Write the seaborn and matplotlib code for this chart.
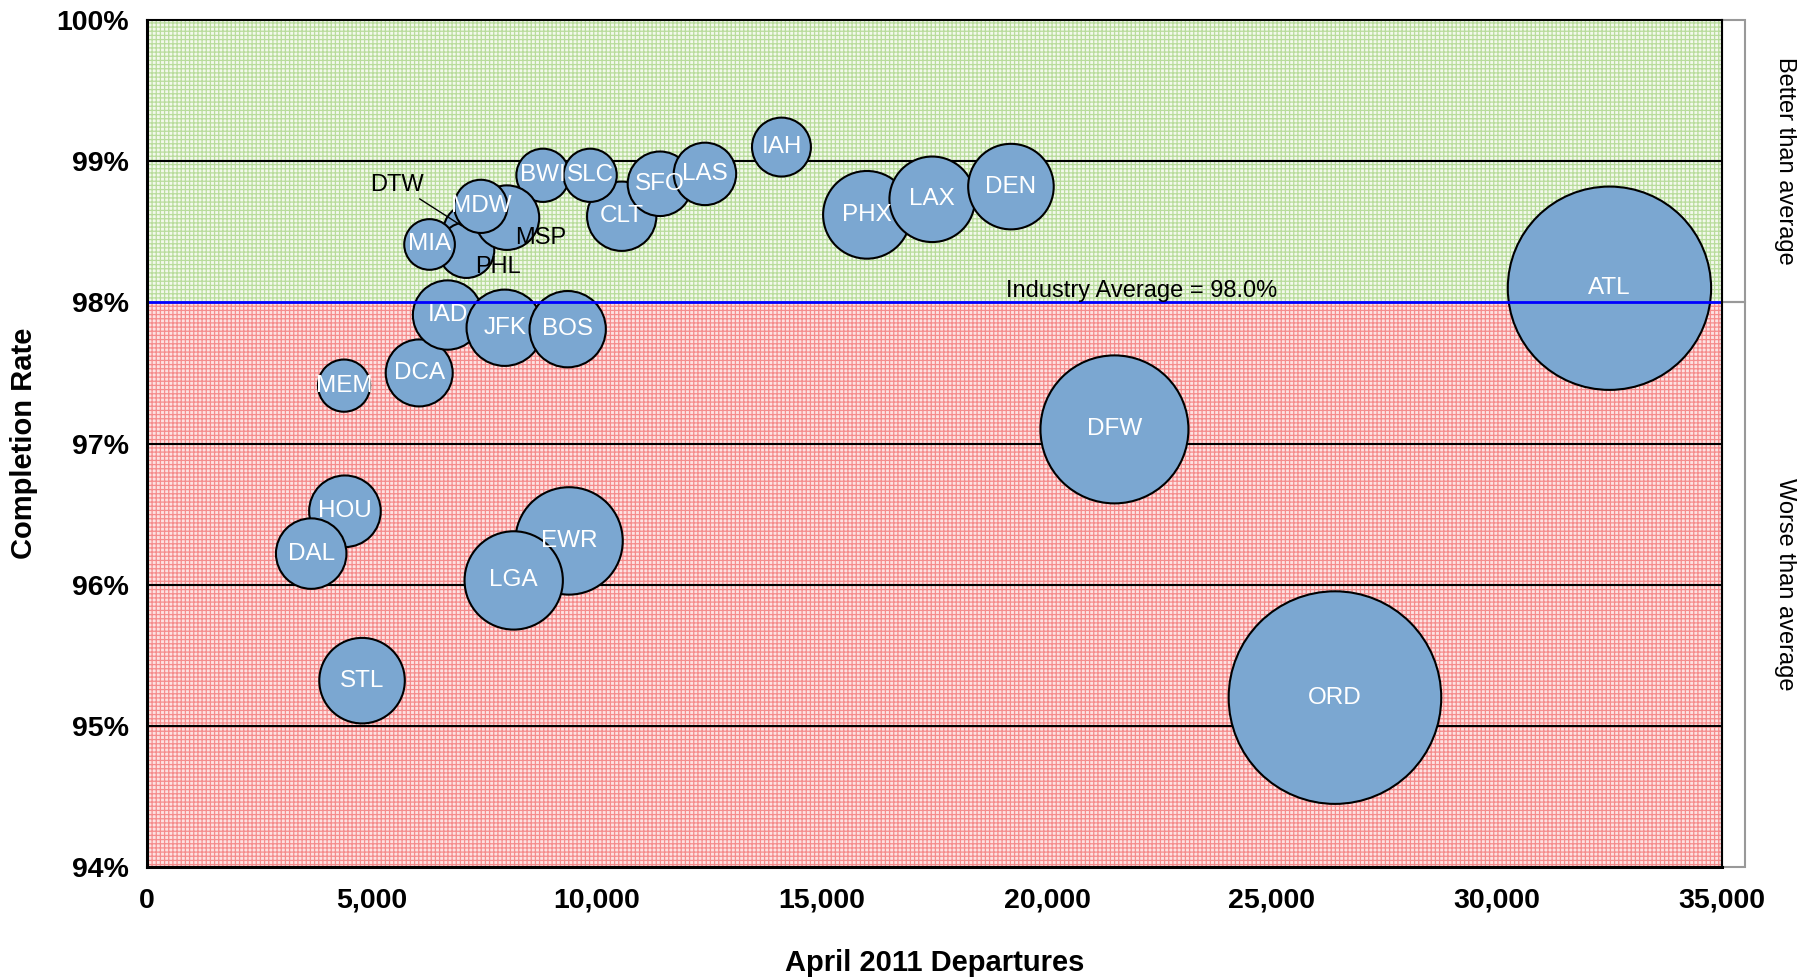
import matplotlib
matplotlib.use("Agg")
import matplotlib.pyplot as plt
import matplotlib.transforms as mtransforms
from matplotlib.patches import Rectangle
from matplotlib.ticker import FuncFormatter, MultipleLocator
import pandas as pd
import seaborn as sns

# values (drawing order = list order)
airports = ["ORD", "ATL", "DFW", "PHX", "LAX", "DEN", "IAH", "CLT", "SFO", "LAS",
            "BWI", "SLC", "DTW", "PHL", "MSP", "MIA", "MDW", "DCA", "IAD", "JFK",
            "BOS", "MEM", "HOU", "DAL", "EWR", "LGA", "STL"]
departures = [26400, 32500, 21500, 16000, 17450, 19200, 14100, 10550, 11400, 12400,
              8800, 9850, 7200, 7100, 8000, 6280, 7420, 6050, 6680, 7950,
              9350, 4380, 4400, 3650, 9380, 8150, 4780]
completion = [95.2, 98.1, 97.1, 98.62, 98.73, 98.82, 99.1, 98.61, 98.84, 98.91,
              98.9, 98.9, 98.5, 98.37, 98.6, 98.41, 98.68, 97.5, 97.91, 97.82,
              97.81, 97.41, 96.52, 96.22, 96.31, 96.03, 95.32]
bubble_size = [846, 774, 410, 144, 137, 137, 65, 90, 78, 73,
               53, 53, 58, 58, 78, 48, 53, 84, 90, 109,
               109, 51, 96, 93, 216, 181, 137]

industry_avg = 98.0
outside_labels = {"DTW", "MSP", "PHL"}

df = pd.DataFrame({"airport": airports, "departures": departures,
                   "completion": completion, "size": bubble_size})

sns.set_style("white")
plt.rcParams["font.family"] = ["Liberation Sans", "DejaVu Sans"]
plt.rcParams["hatch.linewidth"] = 0.9
plt.rcParams["text.color"] = "black"
plt.rcParams["axes.labelcolor"] = "black"
plt.rcParams["xtick.color"] = "black"
plt.rcParams["ytick.color"] = "black"

fig = plt.figure(figsize=(18.12, 9.77), dpi=100)
ax = fig.add_axes([0.0811, 0.1126, 0.8692, 0.8669])

# shaded bands
ax.axhspan(industry_avg, 100, facecolor="#f3f9ec", edgecolor="#b9dc9c",
           hatch="++++", linewidth=0, zorder=0)
ax.axhspan(94, industry_avg, facecolor="#fde2e2", edgecolor="#f58c8c",
           hatch="++++", linewidth=0, zorder=0)

for yv in [95, 96, 97, 99]:
    ax.axhline(yv, color="black", lw=1.5, zorder=1)

smax = df["size"].max()
sns.scatterplot(data=df, x="departures", y="completion", size="size",
                sizes=(0, 27.69 * smax), size_norm=(0, smax), legend=False,
                color="#7ba7d1", edgecolor="black", linewidth=1.5, alpha=1,
                zorder=2, ax=ax)

ax.axhline(industry_avg, color="#0000ff", lw=2, zorder=3)
ax.annotate("Industry Average = 98.0%", (19100, industry_avg), xytext=(0, 4),
            textcoords="offset points", ha="left", va="baseline",
            fontsize=17, zorder=4)

for a, x, y in zip(airports, departures, completion):
    if a in outside_labels:
        continue
    ax.text(x, y, a, ha="center", va="center", color="white",
            fontsize=17.5, zorder=4)

# labels for the hidden bubbles
ax.annotate("DTW", (7200, 98.5), xytext=(-53, 34), textcoords="offset points",
            ha="center", va="center", fontsize=17, zorder=4,
            arrowprops=dict(arrowstyle="-", color="black", lw=1,
                            shrinkA=0, shrinkB=8))
ax.annotate("MSP", (8000, 98.6), xytext=(24, -15), textcoords="offset points",
            ha="center", va="center", fontsize=17, zorder=4)
ax.annotate("PHL", (7100, 98.37), xytext=(23, -12), textcoords="offset points",
            ha="center", va="center", fontsize=17, zorder=4)

ax.set_xlim(0, 35000)
ax.set_ylim(94, 100)
ax.xaxis.set_major_locator(MultipleLocator(5000))
ax.yaxis.set_major_locator(MultipleLocator(1))
ax.xaxis.set_major_formatter(FuncFormatter(lambda v, p: f"{v:,.0f}"))
ax.yaxis.set_major_formatter(FuncFormatter(lambda v, p: f"{v:.0f}%"))
ax.tick_params(axis="both", direction="out", length=7, width=1.5,
               labelsize=20.5, colors="black")
ax.tick_params(axis="x", pad=8)
ax.tick_params(axis="y", pad=6)
for lab in ax.get_xticklabels() + ax.get_yticklabels():
    lab.set_fontweight("bold")

for side in ["left", "bottom"]:
    ax.spines[side].set_linewidth(2.2)
for side in ["top", "right"]:
    ax.spines[side].set_linewidth(1.5)
for sp in ax.spines.values():
    sp.set_color("black")
    sp.set_zorder(5)

ax.set_xlabel("April 2011 Departures", fontsize=21, fontweight="bold")
ax.set_ylabel("Completion Rate", fontsize=21, fontweight="bold")
ax.xaxis.set_label_coords(0.5, -0.097)
ax.yaxis.set_label_coords(-0.069, 0.5)

# bracket boxes on the right
trans = mtransforms.blended_transform_factory(ax.transAxes, ax.transData)
for y0, y1 in [(industry_avg, 100), (94, industry_avg)]:
    ax.add_patch(Rectangle((1.0, y0), 0.0146, y1 - y0, transform=trans,
                           fill=False, edgecolor="#999999", lw=1.5,
                           clip_on=False))
ax.text(1.04, 99.0, "Better than average", transform=trans, rotation=-90,
        ha="center", va="center", fontsize=17)
ax.text(1.04, 96.0, "Worse than average", transform=trans, rotation=-90,
        ha="center", va="center", fontsize=17)

fig.savefig("out.png", dpi=100)
